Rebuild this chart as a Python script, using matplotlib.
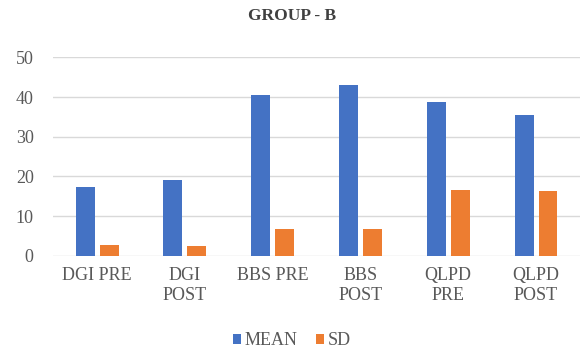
import matplotlib.pyplot as plt
import numpy as np

categories = ["DGI PRE", "DGI\nPOST", "BBS PRE", "BBS\nPOST", "QLPD\nPRE", "QLPD\nPOST"]
mean_vals = [17.4, 19.0, 40.5, 43.1, 38.8, 35.4]
sd_vals = [2.8, 2.5, 6.8, 6.8, 16.6, 16.3]

plt.rcParams['font.family'] = ['Liberation Serif', 'DejaVu Serif']

fig = plt.figure(figsize=(5.84, 3.5), dpi=100)
ax = fig.add_axes([0.091, 0.269, 0.902, 0.567])

x = np.arange(len(categories))
w = 0.216
gap = 0.057
ax.bar(x - (w + gap) / 2, mean_vals, w, color='#4472C4', label='MEAN', zorder=3)
ax.bar(x + (w + gap) / 2, sd_vals, w, color='#ED7D31', label='SD', zorder=3)

ax.set_xlim(-0.5, len(categories) - 0.5)
ax.set_ylim(0, 50)
ax.set_yticks(range(0, 51, 10))
ax.yaxis.grid(True, color='#D9D9D9', linewidth=1, zorder=0)
for s in ax.spines.values():
    s.set_visible(False)
ax.tick_params(axis='both', length=0, labelsize=13, labelcolor='#595959')
ax.tick_params(axis='y', pad=14)
ax.tick_params(axis='x', pad=8)
ax.set_xticks(x)
ax.set_xticklabels(categories, linespacing=1.2)

fig.text(0.5, 0.955, "GROUP - B", ha='center', va='center', fontsize=12.5,
         fontweight='bold', color='#404040')

fig.legend(loc='center', bbox_to_anchor=(0.5, 0.026), ncol=2, frameon=False,
           fontsize=13, labelcolor='#595959', handlelength=0.45, handleheight=0.45,
           handletextpad=0.2, columnspacing=1.0, borderpad=0)

fig.savefig('out.png', dpi=100)
